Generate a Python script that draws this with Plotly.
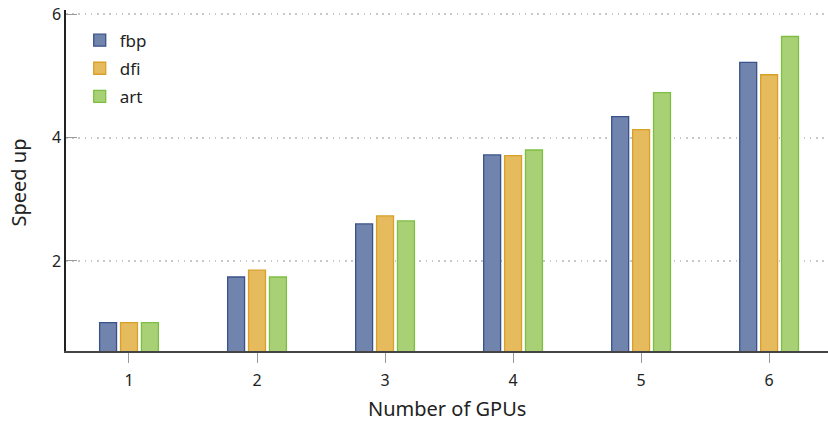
import plotly.graph_objects as go

gpus = [1, 2, 3, 4, 5, 6]
fbp = [1.00, 1.74, 2.60, 3.72, 4.34, 5.22]
dfi = [1.00, 1.85, 2.73, 3.71, 4.13, 5.02]
art = [1.00, 1.74, 2.65, 3.80, 4.73, 5.64]

series = [
    ("fbp", fbp, "rgb(112,132,174)", "rgb(58,82,138)"),
    ("dfi", dfi, "rgb(229,187,94)", "rgb(217,160,40)"),
    ("art", art, "rgb(168,209,118)", "rgb(126,190,64)"),
]

fig = go.Figure()
for name, vals, fill, line in series:
    fig.add_trace(go.Bar(
        x=gpus, y=vals, name=name, legendgroup=name,
        marker=dict(color=fill, line=dict(color=line, width=1.3)),
        base=0,
    ))

font_family = "Noto Sans, sans-serif"
fig.update_layout(
    width=828, height=421,
    margin=dict(l=66, r=0, t=10, b=70),
    plot_bgcolor="white", paper_bgcolor="white",
    barmode="group", bargap=0.51, bargroupgap=0.19,
    font=dict(family=font_family, color="#222", size=16),
    showlegend=True,
    legend=dict(x=0.018, y=0.963, xanchor="left", yanchor="top",
                font=dict(size=17, color="#222"), bgcolor="rgba(0,0,0,0)",
                traceorder="grouped",
                itemwidth=30, tracegroupgap=3),
    xaxis=dict(
        range=[0.508, 6.46], tickvals=gpus, ticktext=[str(g) for g in gpus],
        showline=True, linecolor="#444", linewidth=1.5,
        ticks="outside", ticklen=10, tickcolor="#999", tickwidth=1.2,
        ticklabelstandoff=4, ticklabeloverflow="allow",
        showgrid=False, zeroline=False, automargin=False,
        tickfont=dict(size=16, color="#222"),
    ),
    yaxis=dict(
        range=[0.54, 6.07], tickvals=[2, 4, 6],
        showline=True, linecolor="#222", linewidth=1.5,
        ticks="inside", ticklen=11, tickcolor="#999", tickwidth=1.2,
        ticklabeloverflow="allow",
        showgrid=True, gridcolor="#c8c8c8", griddash="1.5px,4.7px", gridwidth=1.5,
        zeroline=False, automargin=False,
        tickfont=dict(size=16, color="#222"),
    ),
    annotations=[
        dict(text="Number of GPUs", xref="paper", yref="paper", x=0.5, y=0,
             xanchor="center", yanchor="middle", yshift=-57, borderpad=0,
             showarrow=False, font=dict(size=20, color="#222")),
        dict(text="Speed up", xref="paper", yref="paper", x=0, y=0.5,
             xanchor="center", yanchor="middle", xshift=-48, yshift=-2,
             borderpad=0, textangle=-90, showarrow=False,
             font=dict(size=20, color="#222")),
    ],
)

# remove the page's default 8px body margin so the figure fills the window
fig.write_html("out.html", config={"displayModeBar": False},
               post_script="document.body.style.margin='0';")
